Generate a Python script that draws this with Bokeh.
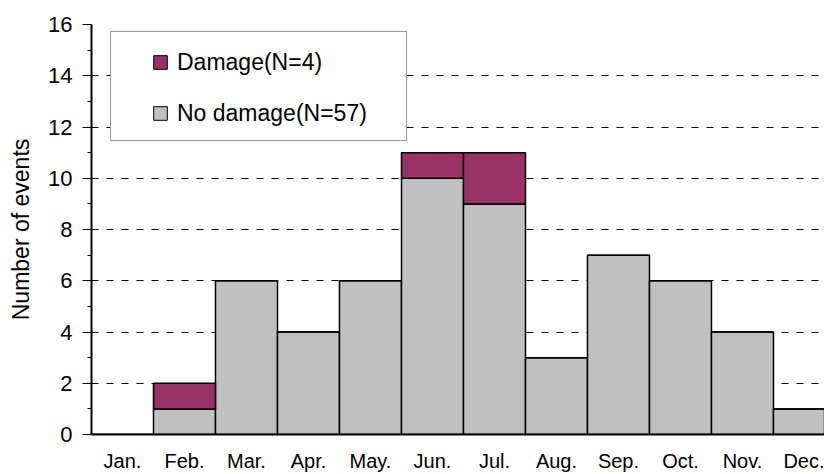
from bokeh.plotting import figure
from bokeh.models import FixedTicker, Range1d, Legend, LegendItem, ColumnDataSource
from bokeh.embed import file_html
from bokeh.resources import INLINE

months = ["Jan.", "Feb.", "Mar.", "Apr.", "May.", "Jun.", "Jul.", "Aug.", "Sep.", "Oct.", "Nov.", "Dec."]
no_damage = [0, 1, 6, 4, 6, 10, 9, 3, 7, 6, 4, 1]
damage = [0, 1, 0, 0, 0, 1, 2, 0, 0, 0, 0, 0]
y_ticks = [0, 2, 4, 6, 8, 10, 12, 14, 16]
y_minor = [1, 3, 5, 7, 9, 11, 13, 15]
labels = ["Damage(N=4)", "No damage(N=57)"]

FONT = "Liberation Sans"
GRAY = "#C0C0C0"
MAROON = "#993366"

xpos = [i + 0.5 for i in range(len(months))]
src = ColumnDataSource(dict(x=xpos, no_damage=no_damage, damage=damage))

p = figure(width=824, height=474, output_backend="svg", toolbar_location=None,
           x_range=Range1d(0, 11.823), y_range=Range1d(0, 16),
           min_border_left=91, min_border_right=0, min_border_top=24, min_border_bottom=37)
p.outline_line_color = None
p.background_fill_color = "white"
p.border_fill_color = "white"

rs = p.vbar_stack(["no_damage", "damage"], x="x", width=1.0, source=src,
                  fill_color=[GRAY, MAROON], line_color="black", line_width=1.5)

# hidden square-marker proxies used only for the legend swatches
key_dmg = p.scatter(x="x", y="damage", source=src, marker="square",
                    fill_color=MAROON, line_color="black", line_width=1, visible=False)
key_nod = p.scatter(x="x", y="no_damage", source=src, marker="square",
                    fill_color=GRAY, line_color="black", line_width=1, visible=False)
key_none = p.scatter(x="x", y="no_damage", source=src, marker="square",
                     fill_alpha=0, line_alpha=0, visible=False)

# grid
p.xgrid.visible = False
p.ygrid.ticker = FixedTicker(ticks=y_ticks)
p.ygrid.grid_line_color = "black"
p.ygrid.grid_line_dash = "7 8"
p.ygrid.grid_line_width = 1

# y axis
ya = p.yaxis[0]
ya.ticker = FixedTicker(ticks=y_ticks, minor_ticks=y_minor)
ya.major_tick_in = 0
ya.major_tick_out = 9
ya.minor_tick_in = 0
ya.minor_tick_out = 4
ya.axis_line_color = "black"
ya.axis_line_width = 2
ya.major_tick_line_color = "black"
ya.minor_tick_line_color = "black"
ya.major_label_text_font = FONT
ya.major_label_text_font_size = "22px"
ya.major_label_text_color = "black"
ya.major_label_standoff = 10
ya.axis_label = "Number of events"
ya.axis_label_text_font = FONT
ya.axis_label_text_font_size = "23px"
ya.axis_label_text_font_style = "normal"
ya.axis_label_text_color = "black"
ya.axis_label_standoff = 11

# x axis
xa = p.xaxis[0]
xa.ticker = FixedTicker(ticks=xpos, minor_ticks=[])
xa.major_label_overrides = {x: m for x, m in zip(xpos, months)}
xa.major_tick_in = 0
xa.major_tick_out = 0
xa.minor_tick_in = 0
xa.minor_tick_out = 0
xa.axis_line_color = "black"
xa.axis_line_width = 2
xa.major_label_text_font = FONT
xa.major_label_text_font_size = "20px"
xa.major_label_text_color = "black"
xa.major_label_standoff = 15

# legend frame (box only)
frame_box = Legend(items=[LegendItem(label=" ", renderers=[key_none])], location=(19, 293))
frame_box.glyph_width = 20
frame_box.glyph_height = 108
frame_box.label_height = 108
frame_box.label_width = 275
frame_box.label_standoff = 0
frame_box.padding = 0
frame_box.margin = 0
frame_box.spacing = 0
frame_box.border_line_color = "#333333"
frame_box.border_line_width = 1
frame_box.background_fill_color = "white"
frame_box.background_fill_alpha = 1
p.add_layout(frame_box, "center")

# legend entries
legend = Legend(items=[LegendItem(label=labels[0], renderers=[key_dmg]),
                       LegendItem(label=labels[1], renderers=[key_nod])],
                location=(52, 303))
legend.label_text_font = FONT
legend.label_text_font_size = "23px"
legend.label_text_color = "black"
legend.glyph_width = 34
legend.glyph_height = 36
legend.label_height = 36
legend.label_width = 20
legend.label_standoff = 0
legend.spacing = 15
legend.padding = 0
legend.margin = 0
legend.border_line_alpha = 0
legend.background_fill_alpha = 0
p.add_layout(legend, "center")

open("out.html", "w").write(file_html(p, INLINE))
